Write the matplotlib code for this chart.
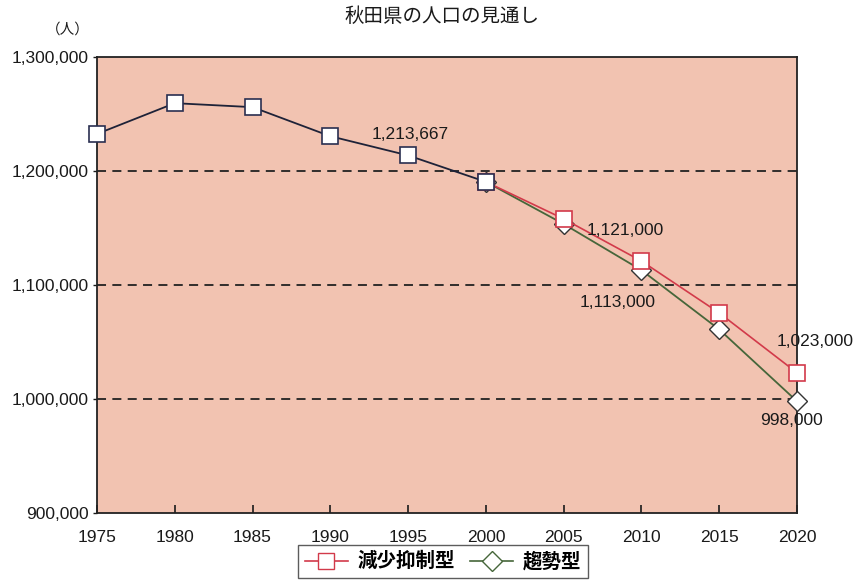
import matplotlib
matplotlib.use("Agg")
import matplotlib.pyplot as plt
from matplotlib.lines import Line2D

plt.rcParams['font.family'] = ['Liberation Sans', 'Noto Sans CJK JP', 'DejaVu Sans']

# ======================
# Data
# ======================
years_past = [1975, 1980, 1985, 1990, 1995, 2000]
pop_past = [1232500, 1259500, 1256000, 1230500, 1213667, 1190500]

years_future = [2000, 2005, 2010, 2015, 2020]
pop_suppress = [1190500, 1158000, 1121000, 1075500, 1023000]   # 減少抑制型
pop_trend = [1190500, 1153500, 1113000, 1061000, 998000]       # 趨勢型

xticks = [1975, 1980, 1985, 1990, 1995, 2000, 2005, 2010, 2015, 2020]
yticks = [900000, 1000000, 1100000, 1200000, 1300000]

title = "秋田県の人口の見通し"
unit = "（人）"
names = ["減少抑制型", "趨勢型"]

# ======================
# Colours
# ======================
bg = '#f2c3b1'
red = '#d23a4a'
green = '#46663a'
navy = '#1e2238'

fig = plt.figure(figsize=(8.67, 5.85), dpi=100)
ax = fig.add_axes([97 / 867, 72 / 585, 700 / 867, 456 / 585])
ax.set_facecolor(bg)

# grid lines (dashed)
for v in yticks[1:-1]:
    ax.axhline(v, color='#222222', lw=1.3, ls=(0, (5, 3.5)), zorder=1)

# lines
ax.plot(years_future, pop_trend, color=green, lw=1.3, marker='D',
        markersize=10, markerfacecolor='white', markeredgecolor='#333333',
        markeredgewidth=1.0, zorder=3, clip_on=False)
ax.plot(years_future, pop_suppress, color=red, lw=1.2, marker='s',
        markersize=11, markerfacecolor='white', markeredgecolor=red,
        markeredgewidth=1.2, zorder=4, clip_on=False)
ax.plot(years_past, pop_past, color=navy, lw=1.3, marker='s',
        markersize=11, markerfacecolor='white', markeredgecolor='#2a2f50',
        markeredgewidth=1.2, zorder=5, clip_on=False)

# data labels
def label(x, y, dx, dy):
    ax.annotate(f"{y:,}", xy=(x, y), xytext=(dx, dy),
                textcoords='offset pixels', ha='center', va='center',
                fontsize=12.5, color='#1a1a1a', zorder=6, annotation_clip=False)

label(years_past[4], pop_past[4], 2, 21)
label(years_future[2], pop_suppress[2], -16, 31)
label(years_future[2], pop_trend[2], -24, -32)
label(years_future[4], pop_suppress[4], 18, 31)
label(years_future[4], pop_trend[4], -5, -19)

# axes
ax.set_xlim(1975, 2020)
ax.set_ylim(900000, 1300000)
ax.set_xticks(xticks)
ax.set_yticks(yticks)
ax.set_yticklabels([f"{v:,}" for v in yticks])
ax.tick_params(axis='x', direction='in', length=6, width=1.2, pad=12,
               labelsize=12.5, colors='#1a1a1a')
ax.tick_params(axis='y', direction='out', length=3, width=1.0, pad=3,
               labelsize=12.5, colors='#1a1a1a')
for s in ax.spines.values():
    s.set_color('#222222')
    s.set_linewidth(1.3)

fig.text(442 / 867, 1 - 17 / 585, title, ha='center', va='center',
         fontsize=14, color='#1a1a1a')
fig.text(68 / 867, 1 - 30 / 585, unit, ha='center', va='center',
         fontsize=10.5, color='#1a1a1a')

# legend
handles = [
    Line2D([], [], color=red, lw=1.2, marker='s', markersize=11,
           markerfacecolor='white', markeredgecolor=red),
    Line2D([], [], color=green, lw=1.2, marker='D', markersize=10,
           markerfacecolor='white', markeredgecolor=green),
]
leg = fig.legend(handles, names, loc='lower center', ncol=2,
                 bbox_to_anchor=(443 / 867, -0.005), frameon=True,
                 fancybox=False, edgecolor='#333333', handlelength=2.2,
                 handletextpad=0.5, columnspacing=0.8, borderpad=0.35,
                 prop={'family': ['Noto Sans CJK JP'], 'weight': 'bold',
                       'size': 14})
leg.get_frame().set_linewidth(1.0)

fig.savefig("out.png", dpi=100)
